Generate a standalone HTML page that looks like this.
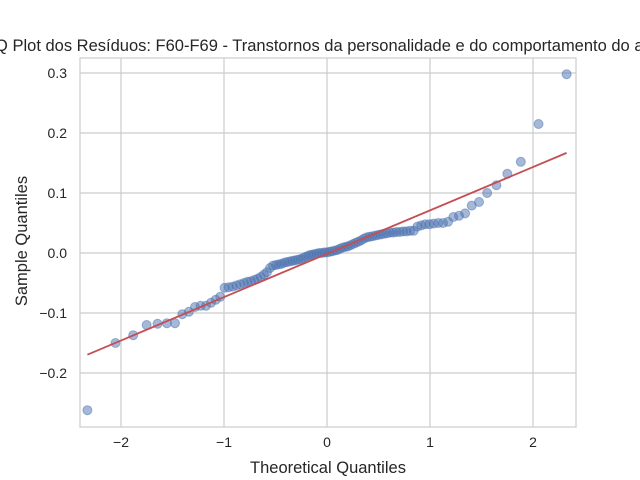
<!DOCTYPE html>
<html><head><meta charset="utf-8"><style>
body{margin:0;background:#fff}
svg{display:block;font-family:"Liberation Sans","DejaVu Sans",sans-serif}
</style></head><body>
<svg id="chart" width="640" height="480">
<rect width="640" height="480" fill="#fff"/>
<g id="grid"></g>
<rect x="80" y="58" width="496" height="369" fill="none" stroke="#cccccc" stroke-width="1.2"/>
<g id="ticks"></g>
<g id="pts"></g>
<g id="fit"></g>
<text x="328" y="51" text-anchor="middle" font-size="16.5" fill="#262626">Q-Q Plot dos Resíduos: F60-F69 - Transtornos da personalidade e do comportamento do adulto</text>
<text x="328" y="473" text-anchor="middle" font-size="16.5" fill="#262626">Theoretical Quantiles</text>
<text transform="translate(27,241) rotate(-90)" text-anchor="middle" font-size="16.5" fill="#262626">Sample Quantiles</text>
</svg>
<script>
const sampleValues = [-0.262,-0.150,-0.137,-0.120,-0.118,-0.117,-0.117,-0.102,-0.098,-0.088,
-0.088,-0.090,-0.083,-0.078,-0.073,-0.058,-0.057,-0.056,-0.054,-0.052,
-0.050,-0.048,-0.047,-0.045,-0.043,-0.040,-0.036,-0.032,-0.025,-0.021,
-0.020,-0.019,-0.018,-0.016,-0.015,-0.014,-0.013,-0.012,-0.011,-0.010,
-0.008,-0.006,-0.004,-0.003,-0.002,-0.001,0.000,0.000,0.001,0.001,
0.002,0.003,0.004,0.005,0.007,0.009,0.010,0.011,0.013,0.015,
0.017,0.019,0.021,0.024,0.026,0.027,0.028,0.029,0.030,0.031,
0.032,0.033,0.034,0.034,0.035,0.035,0.036,0.036,0.037,0.037,
0.044,0.046,0.048,0.048,0.049,0.050,0.050,0.052,0.060,0.062,
0.066,0.079,0.085,0.100,0.113,0.132,0.152,0.215,0.298];
const xTicks = [-2,-1,0,1,2];
const xTickLabels = ["−2","−1","0","1","2"];
const yTicks = [-0.2,-0.1,0.0,0.1,0.2,0.3];
const yTickLabels = ["−0.2","−0.1","0.0","0.1","0.2","0.3"];

const NS="http://www.w3.org/2000/svg";
const xs=v=>327+103*v, ys=v=>253-600*v;
function ppf(p){
 const a=[-39.69683028665376,220.9460984245205,-275.9285104469687,138.3577518672690,-30.66479806614716,2.506628277459239],
 b=[-54.47609879822406,161.5851249968862,-155.6989798598866,66.80131188771972,-13.28068155288572],
 c=[-0.007784894002430293,-0.3223964580411365,-2.400758277161838,-2.549732539343734,4.374664141464968,2.938163982698783],
 d=[0.007784695709041462,0.3224671290700398,2.445134137142996,3.754408661907416];
 let q,r;
 if(p<0.02425){q=Math.sqrt(-2*Math.log(p));return (((((c[0]*q+c[1])*q+c[2])*q+c[3])*q+c[4])*q+c[5])/((((d[0]*q+d[1])*q+d[2])*q+d[3])*q+1);}
 if(p>1-0.02425){q=Math.sqrt(-2*Math.log(1-p));return -(((((c[0]*q+c[1])*q+c[2])*q+c[3])*q+c[4])*q+c[5])/((((d[0]*q+d[1])*q+d[2])*q+d[3])*q+1);}
 q=p-0.5;r=q*q;return (((((a[0]*r+a[1])*r+a[2])*r+a[3])*r+a[4])*r+a[5])*q/(((((b[0]*r+b[1])*r+b[2])*r+b[3])*r+b[4])*r+1);
}
const g=document.getElementById('grid'), t=document.getElementById('ticks');
function mk(tag,attrs,parent){const e=document.createElementNS(NS,tag);for(const k in attrs)e.setAttribute(k,attrs[k]);parent.appendChild(e);return e;}
xTicks.forEach((v,i)=>{
 const l=mk('line',{x1:xs(v),x2:xs(v),y1:58,y2:427,stroke:'#cccccc','stroke-width':1.2},g);
 
 
 const tx=mk('text',{x:xs(v),y:447,'text-anchor':'middle','font-size':14,fill:'#262626'},t);
 tx.textContent=xTickLabels[i];
 
 
});
yTicks.forEach((v,i)=>{
 const l=mk('line',{x1:80,x2:576,y1:ys(v),y2:ys(v),stroke:'#cccccc','stroke-width':1.2},g);
 
 
 const tx=mk('text',{x:67,y:ys(v)+5,'text-anchor':'end','font-size':14,fill:'#262626'},t);
 tx.textContent=yTickLabels[i];
 
 
});
const sorted=[...sampleValues].sort((a,b)=>a-b), n=sorted.length;
const theo=sorted.map((v,i)=>ppf((i+1)/(n+1)));
const P=document.getElementById('pts');
sorted.forEach((v,i)=>{
 const c=mk('circle',{cx:xs(theo[i]),cy:ys(v),r:4.5,fill:'#4c72b0','fill-opacity':0.5,stroke:'#4c72b0','stroke-opacity':0.5,'stroke-width':1},P);
 
 
});
const mx=theo.reduce((a,b)=>a+b)/n, my=sorted.reduce((a,b)=>a+b)/n;
let sxy=0,sxx=0;theo.forEach((x,i)=>{sxy+=(x-mx)*(sorted[i]-my);sxx+=(x-mx)*(x-mx);});
const slope=sxy/sxx, ic=my-slope*mx;
const x0=theo[0], x1=theo[n-1];
const ln=mk('line',{x1:xs(x0),y1:ys(ic+slope*x0),x2:xs(x1),y2:ys(ic+slope*x1),stroke:'#c44e52','stroke-width':1.8},document.getElementById('fit'));


</script>
</body></html>
